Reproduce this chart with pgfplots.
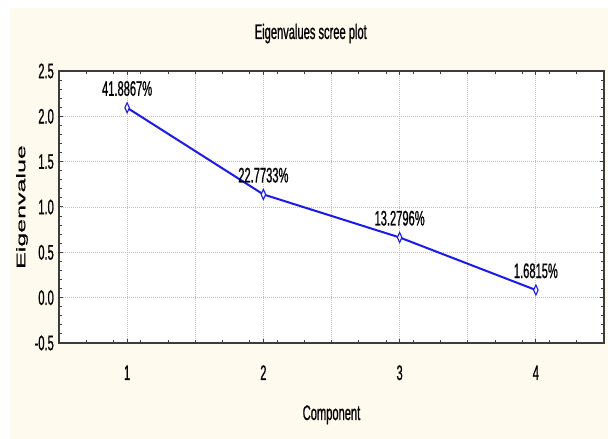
\documentclass[border=0pt]{standalone}
\usepackage{fontspec}
\setmainfont[FakeStretch=0.53, FakeBold=0.8]{Liberation Sans}
\newfontfamily\ylfont[FakeBold=0.6]{Liberation Sans}
\usepackage{graphicx}
\usepackage{pgfplots}
\pgfplotsset{compat=1.18}
\definecolor{bgcream}{RGB}{255,250,238}
\definecolor{plotblue}{RGB}{25,25,240}
\definecolor{axisgray}{RGB}{60,60,60}
\begin{document}
\begin{tikzpicture}[x=1pt,y=1pt]
\useasboundingbox (0,0) rectangle (608,439);
\fill[bgcream] (10,0) rectangle (608,431);
\begin{axis}[
  at={(59pt,96pt)}, anchor=south west,
  scale only axis, width=545pt, height=272pt,
  xmin=0.5, xmax=4.5, ymin=-0.5, ymax=2.5,
  axis background/.style={fill=white},
  axis line style={line width=1.6pt, axisgray},
  /pgf/number format/assume math mode=true,
  tick label style={font=\fontsize{21}{25}\selectfont, text=black},
  xtick={1,2,3,4},
  minor xtick={0.7,0.9,1.1,1.3,1.5,1.7,1.9,2.1,2.3,2.5,2.7,2.9,3.1,3.3,3.5,3.7,3.9,4.1,4.3},
  extra x ticks={1.5,2.5,3.5},
  extra x tick labels={},
  extra x tick style={grid=major, major tick length=3pt},
  ytick={-0.5,0,0.5,1,1.5,2,2.5},
  minor y tick num=4,
  yticklabel style={/pgf/number format/fixed, /pgf/number format/fixed zerofill, /pgf/number format/precision=1},
  yticklabel style={anchor=east, inner sep=0pt, xshift=-5pt},
  xticklabel style={anchor=base, inner sep=0pt, yshift=-37pt},
  tick pos=both, tick align=inside,
  major tick length=4pt, minor tick length=3pt,
  every tick/.style={axisgray, line width=1pt},
  grid=major,
  major grid style={gray!50, line width=0.8pt, dash pattern=on 1pt off 1pt},
  title={Eigenvalues scree plot},
  title style={at={(axis description cs:0.462,1)}, anchor=base, yshift=26pt, inner sep=0pt, font=\fontsize{21}{25}\selectfont},
  xlabel={Component},
  xlabel style={at={(axis description cs:0.5,0)}, anchor=base, yshift=-77pt, inner sep=0pt, font=\fontsize{21}{25}\selectfont},
  ylabel={\scalebox{1}[0.5]{Eigenvalue}},
  ylabel style={at={(axis description cs:-0.0679,0.5)}, anchor=center, inner sep=0pt, font=\ylfont\fontsize{25}{30}\selectfont},
]
\addplot[plotblue, line width=2pt, mark=diamond*, mark size=5pt,
  mark options={fill=white, draw=plotblue, line width=1.1pt, xscale=0.6},
  nodes near coords, point meta=explicit symbolic,
  every node near coord/.append style={anchor=base, yshift=12pt, inner sep=0pt, text=black, font=\fontsize{21}{25}\selectfont}]
  coordinates {(1,2.0943)[41.8867\%] (2,1.1387)[22.7733\%] (3,0.6640)[13.2796\%] (4,0.0841)[1.6815\%]};
\end{axis}
\end{tikzpicture}
\end{document}
